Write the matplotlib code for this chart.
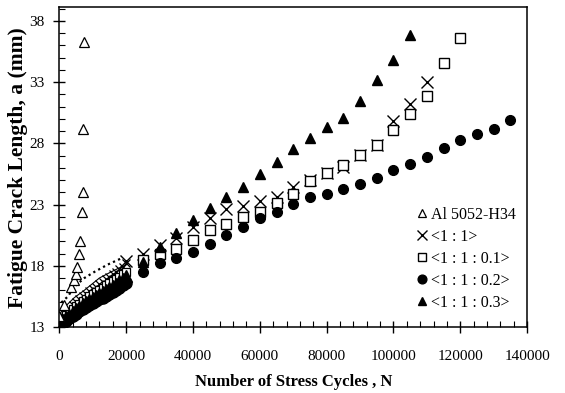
import matplotlib.pyplot as plt
from matplotlib.ticker import MultipleLocator

plt.rcParams['font.family'] = ['Liberation Serif', 'DejaVu Serif']

# Al 5052-H34 (open triangles)
al_n = [0, 1500, 3600, 4500, 5100, 5400, 5900, 6200, 6900, 7000, 7200, 7500]
al_a = [13.9, 14.8, 16.3, 16.8, 17.3, 17.9, 19.0, 20.0, 22.4, 24.0, 29.2, 36.3]

# dense early readings, 0 - 20000 cycles
early_n = [0, 1000, 2000, 3000, 4000, 5000, 6000, 7000, 8000, 9000, 10000,
           11000, 12000, 13000, 14000, 15000, 16000, 17000, 18000, 19000, 20000]
early_11 = [13.6, 13.9, 14.2, 14.5, 14.8, 15.0, 15.3, 15.5, 15.7, 15.9, 16.1,
            16.3, 16.5, 16.7, 16.9, 17.1, 17.3, 17.5, 17.7, 17.9, 18.2]
early_01 = [13.4, 13.7, 13.95, 14.2, 14.45, 14.7, 14.9, 15.1, 15.3, 15.5, 15.7,
            15.85, 16.05, 16.2, 16.4, 16.6, 16.75, 16.95, 17.1, 17.3, 17.5]
early_02 = [13.1, 13.3, 13.5, 13.7, 13.9, 14.1, 14.3, 14.5, 14.65, 14.8, 14.95,
            15.1, 15.25, 15.4, 15.55, 15.7, 15.85, 16.0, 16.2, 16.4, 16.6]
early_03 = [13.3, 13.55, 13.8, 14.0, 14.25, 14.45, 14.65, 14.85, 15.05, 15.2, 15.4,
            15.55, 15.7, 15.85, 16.0, 16.2, 16.35, 16.55, 16.75, 16.95, 17.2]

# dotted and thin solid traces over the early band
dot_n = [600, 2600, 4500, 7500, 10500, 14500, 18500]
dot_a = [15.0, 15.5, 16.3, 17.0, 17.5, 18.1, 18.6]
thin_n = [0, 1500, 4500, 7500, 12000, 15500, 18500]
thin_a = [14.0, 14.6, 15.4, 16.0, 17.0, 17.5, 17.9]

# discrete readings every 5000 cycles
n11 = [20000, 25000, 30000, 35000, 40000, 45000, 50000, 55000, 60000, 65000,
       70000, 75000, 80000, 85000, 90000, 95000, 100000, 105000, 110000]
a11 = [18.4, 19.0, 19.7, 20.3, 21.2, 21.9, 22.6, 22.9, 23.3, 23.6,
       24.4, 25.0, 25.6, 26.1, 27.05, 27.9, 29.8, 31.2, 33.0]

n01 = [25000, 30000, 35000, 40000, 45000, 50000, 55000, 60000, 65000, 70000,
       75000, 80000, 85000, 90000, 95000, 100000, 105000, 110000, 115000, 120000]
a01 = [18.5, 19.0, 19.4, 20.1, 20.9, 21.4, 22.0, 22.4, 23.1, 23.9,
       24.9, 25.6, 26.2, 27.05, 27.9, 29.1, 30.4, 31.9, 34.6, 36.6]

n02 = [25000, 30000, 35000, 40000, 45000, 50000, 55000, 60000, 65000, 70000,
       75000, 80000, 85000, 90000, 95000, 100000, 105000, 110000, 115000, 120000,
       125000, 130000, 135000]
a02 = [17.5, 18.2, 18.6, 19.15, 19.8, 20.5, 21.2, 21.9, 22.4, 23.05,
       23.6, 23.9, 24.3, 24.7, 25.2, 25.8, 26.3, 26.9, 27.65, 28.3,
       28.8, 29.2, 29.9]

n03 = [25000, 30000, 35000, 40000, 45000, 50000, 55000, 60000, 65000, 70000,
       75000, 80000, 85000, 90000, 95000, 100000, 105000]
a03 = [18.3, 19.56, 20.65, 21.75, 22.7, 23.6, 24.46, 25.5, 26.5, 27.5,
       28.4, 29.3, 30.1, 31.5, 33.2, 34.8, 36.85]

y_ticks = [13, 18, 23, 28, 33, 38]

fig = plt.figure(figsize=(5.65, 3.93), dpi=100)
ax = fig.add_axes([0.105, 0.168, 0.828, 0.813])

ax.plot(dot_n, dot_a, color='black', linestyle=(0, (1, 1.5)), linewidth=1.6)
ax.plot(thin_n, thin_a, color='black', linewidth=0.8)

ax.plot(early_n, early_11, 'x', color='black', ms=6, mew=0.9)
ax.plot(early_n, early_01, 's', mfc='white', mec='black', ms=6, mew=0.9)
ax.plot(early_n, early_02, 'o', color='black', ms=8)
ax.plot(early_n, early_03, '^', color='black', ms=8)

ax.plot(al_n, al_a, '^', mfc='white', mec='black', ms=7, mew=0.9,
        label='Al 5052-H34')
ax.plot(n11, a11, 'x', color='black', ms=8, mew=1.0, label='<1 : 1>')
ax.plot(n01, a01, 's', mfc='white', mec='black', ms=7, mew=1.0,
        label='<1 : 1 : 0.1>')
ax.plot(n02, a02, 'o', color='black', ms=7, label='<1 : 1 : 0.2>')
ax.plot(n03, a03, '^', color='black', ms=7, label='<1 : 1 : 0.3>')

ax.set_xlim(0, 140000)
ax.set_ylim(13, 39.1)
ax.xaxis.set_major_locator(MultipleLocator(20000))
ax.xaxis.set_minor_locator(MultipleLocator(4000))
ax.set_yticks(y_ticks)
ax.yaxis.set_minor_locator(MultipleLocator(1))
ax.tick_params(which='major', direction='inout', length=9, width=1.0,
               labelsize=11, pad=6)
ax.tick_params(which='minor', direction='in', length=4, width=0.8)
ax.tick_params(axis='x', pad=12)
for s in ax.spines.values():
    s.set_linewidth(1.1)

ax.set_xlabel('Number of Stress Cycles , N', fontsize=12, fontweight='bold',
              labelpad=8)
ax.set_ylabel('Fatigue Crack Length, a (mm)', fontsize=15.5, fontweight='bold',
              labelpad=1)

ax.legend(loc='lower right', bbox_to_anchor=(0.99, 0.03), frameon=False,
          fontsize=11.5, handlelength=0.6, handletextpad=0.25,
          labelspacing=0.38, borderaxespad=0, markerscale=0.9)

fig.savefig('out.png', dpi=100)
